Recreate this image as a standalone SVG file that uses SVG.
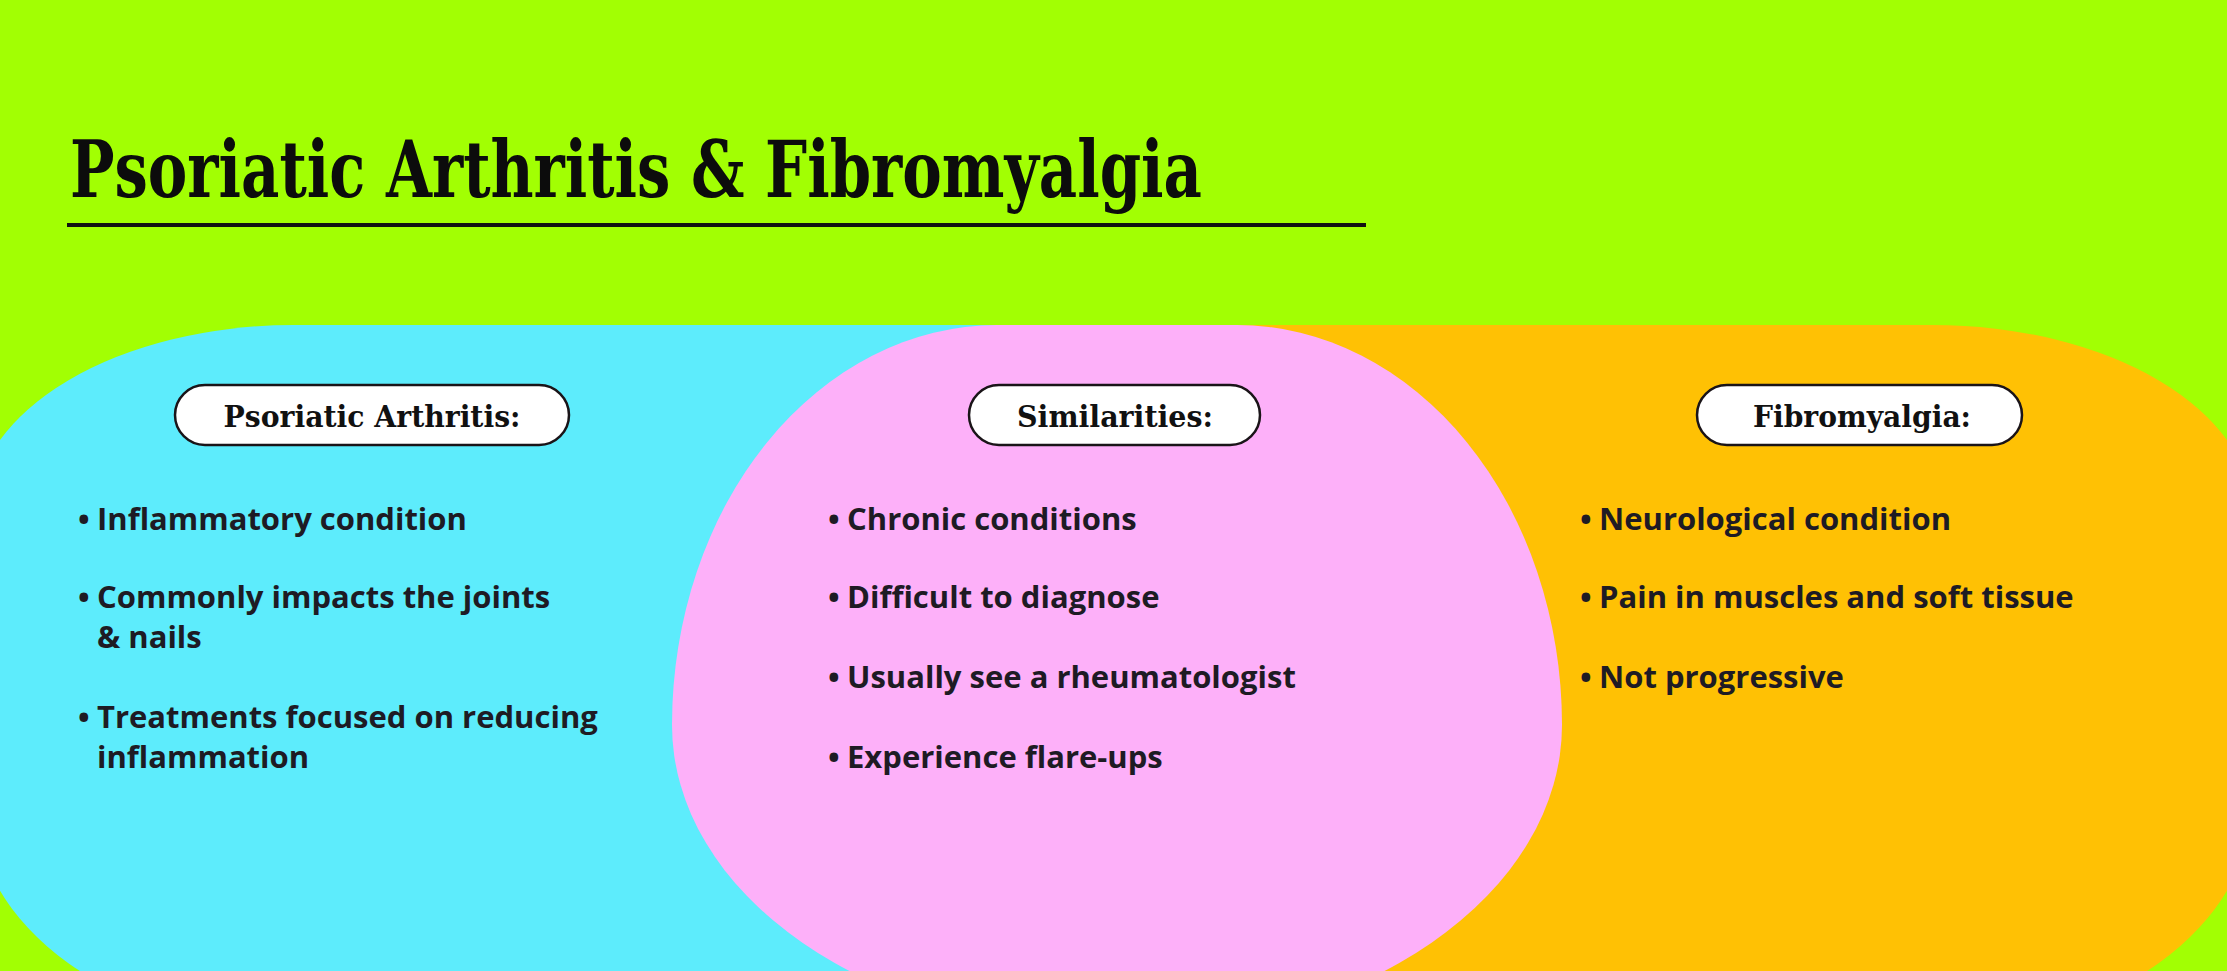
<svg xmlns="http://www.w3.org/2000/svg" width="2227" height="971" viewBox="0 0 2227 971">
<style>
.title{font-family:"DejaVu Serif Condensed","DejaVu Serif","Liberation Serif",serif;font-weight:bold;fill:#0c0c0c}
.pill{fill:#ffffff;stroke:#1a1418;stroke-width:2.5}
.pilltxt{font-family:"DejaVu Serif Condensed","DejaVu Serif","Liberation Serif",serif;font-weight:bold;font-size:30px;fill:#111;text-anchor:middle}
.item{font-family:"Open Sans","Noto Sans","Liberation Sans",sans-serif;font-weight:700;font-size:31px;fill:#1e1b24}
</style>
<rect x="0" y="0" width="2227" height="971" fill="#a2ff03"/>
<g id="title">
<text class="title" x="70" y="197" font-size="78" textLength="1132" lengthAdjust="spacingAndGlyphs">Psoriatic Arthritis &amp; Fibromyalgia</text>
<line x1="67" y1="225" x2="1366" y2="225" stroke="#111" stroke-width="4"/>
</g>
<g id="psoriatic-arthritis">
<path d="M294,325 L1117,325 L1117,1030 L294,1030 A320 230 0 0 1 -26,800 L-26,515 A320 190 0 0 1 294,325 Z" fill="#5decfc"/>
<rect class="pill" x="175" y="385" width="394" height="60" rx="30"/>
<text class="pilltxt" x="372" y="427" textLength="297" lengthAdjust="spacingAndGlyphs">Psoriatic Arthritis:</text>
<text class="item" y="530"><tspan x="78">•</tspan><tspan x="97">Inflammatory condition</tspan></text>
<text class="item" y="608"><tspan x="78">•</tspan><tspan x="97">Commonly impacts the joints</tspan></text>
<text class="item" x="97" y="648">&amp; nails</text>
<text class="item" y="728"><tspan x="78">•</tspan><tspan x="97">Treatments focused on reducing</tspan></text>
<text class="item" x="97" y="768">inflammation</text>
</g>
<g id="fibromyalgia">
<path d="M1933,325 A320 190 0 0 1 2253,515 L2253,800 A320 230 0 0 1 1933,1030 L1117,1030 L1117,325 Z" fill="#ffc104"/>
<rect class="pill" x="1697" y="385" width="325" height="60" rx="30"/>
<text class="pilltxt" x="1862" y="427" textLength="218" lengthAdjust="spacingAndGlyphs">Fibromyalgia:</text>
<text class="item" y="530"><tspan x="1580">•</tspan><tspan x="1599">Neurological condition</tspan></text>
<text class="item" y="608"><tspan x="1580">•</tspan><tspan x="1599">Pain in muscles and soft tissue</tspan></text>
<text class="item" y="688"><tspan x="1580">•</tspan><tspan x="1599">Not progressive</tspan></text>
</g>
<g id="similarities">
<path d="M672,725 A445 308 0 0 0 1562,725 A325 400 0 0 0 1237,325 L997,325 A325 400 0 0 0 672,725 Z" fill="#fdb0f9"/>
<rect class="pill" x="969" y="385" width="291" height="60" rx="30"/>
<text class="pilltxt" x="1115" y="427" textLength="196" lengthAdjust="spacingAndGlyphs">Similarities:</text>
<text class="item" y="530"><tspan x="828">•</tspan><tspan x="847">Chronic conditions</tspan></text>
<text class="item" y="608"><tspan x="828">•</tspan><tspan x="847">Difficult to diagnose</tspan></text>
<text class="item" y="688"><tspan x="828">•</tspan><tspan x="847">Usually see a rheumatologist</tspan></text>
<text class="item" y="768"><tspan x="828">•</tspan><tspan x="847">Experience flare-ups</tspan></text>
</g>
<g id="connectors"/>
</svg>
